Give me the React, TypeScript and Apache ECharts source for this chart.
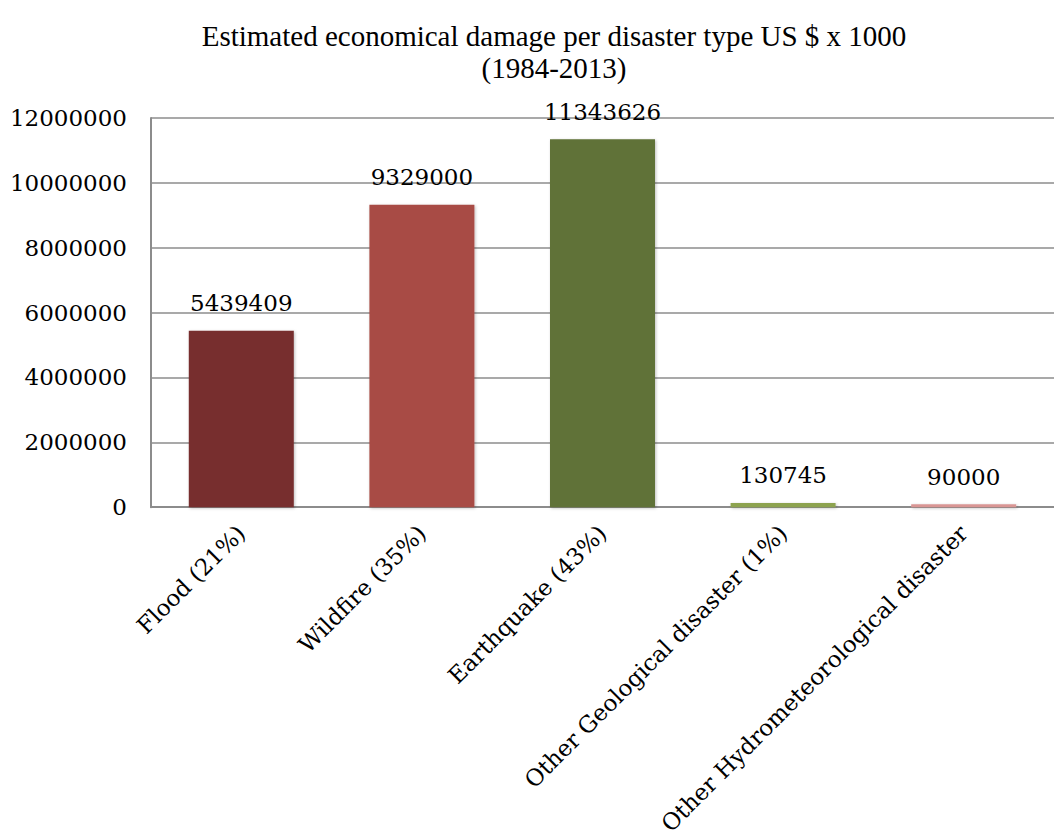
import React, { useEffect, useRef } from "react";
import * as echarts from "echarts";

const categories = [
  "Flood (21%)",
  "Wildfire (35%)",
  "Earthquake (43%)",
  "Other Geological disaster (1%)",
  "Other Hydrometeorological disaster",
];
const damageValues = [5439409, 9329000, 11343626, 130745, 90000];
const barColors = ["#772F2F", "#A84C45", "#617237", "#8DA34F", "#D99694"];
const yTicks = [0, 2000000, 4000000, 6000000, 8000000, 10000000, 12000000];

const FONT = "DejaVu Serif";

export default function App() {
  const ref = useRef<HTMLDivElement>(null);
  useEffect(() => {
    document.body.style.margin = "0";
    if (!ref.current) return;
    const chart = echarts.init(ref.current, undefined, { renderer: "svg" });
    chart.setOption({
      animation: false,
      backgroundColor: "#ffffff",
      title: {
        text: "Estimated economical damage per disaster type US $ x 1000\n(1984-2013)",
        left: 549,
        top: 15,
        textAlign: "center",
        textStyle: {
          fontFamily: "Liberation Serif",
          fontSize: 29,
          fontWeight: "normal",
          color: "#000",
          lineHeight: 32,
        },
      },
      grid: { left: 151, width: 911, top: 118, height: 395, containLabel: false },
      xAxis: {
        type: "category",
        data: categories,
        axisLine: { show: true, lineStyle: { color: "#8c8c8c", width: 2 } },
        axisTick: { show: false },
        axisLabel: {
          rotate: 45,
          interval: 0,
          margin: 22,
          fontFamily: FONT,
          fontSize: 23,
          color: "#000",
        },
      },
      yAxis: {
        type: "value",
        min: yTicks[0],
        max: yTicks[yTicks.length - 1],
        interval: 2000000,
        axisLine: { show: true, lineStyle: { color: "#8c8c8c", width: 2 } },
        axisTick: { show: false },
        splitLine: { show: true, lineStyle: { color: "#8c8c8c", width: 1.5 } },
        axisLabel: {
          margin: 24,
          fontFamily: FONT,
          fontSize: 23,
          color: "#000",
          formatter: (v: number) => String(v),
        },
      },
      series: [
        {
          type: "bar",
          barWidth: 105,
          data: damageValues.map((v, i) => ({
            value: v,
            itemStyle: {
              color: barColors[i],
              shadowColor: "rgba(0,0,0,0.25)",
              shadowBlur: 3,
              shadowOffsetX: 1,
              shadowOffsetY: 1,
            },
          })),
          label: {
            show: true,
            position: "top",
            distance: 16,
            fontFamily: FONT,
            fontSize: 23,
            color: "#000",
          },
        },
      ],
    });
    return () => chart.dispose();
  }, []);
  return (
    <div style={{ width: 1054, height: 838, overflow: "hidden" }}>
      <div ref={ref} style={{ width: 1054, height: 838 }} />
    </div>
  );
}
